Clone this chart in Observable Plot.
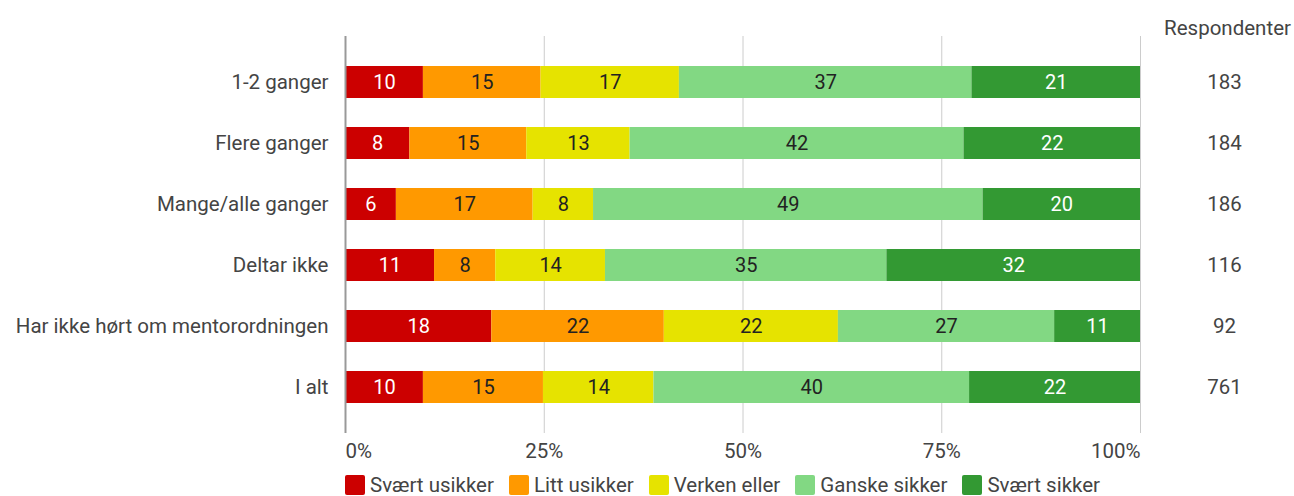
<!DOCTYPE html>
<html>
<head>
<meta charset="utf-8">
<script src="https://cdn.jsdelivr.net/npm/d3@7"></script>
<script src="https://cdn.jsdelivr.net/npm/@observablehq/plot@0.6"></script>
<style>
  body { margin: 0; background: #fff; font-family: Roboto, sans-serif; }
  #legend { display: flex; align-items: center; height: 22px; padding-left: 345px; color: #444; font-size: 20.5px; }
  #legend .item { display: flex; align-items: center; margin-right: 15px; }
  #legend .sw { width: 20px; height: 20px; border-radius: 2px; margin-right: 5px; }
</style>
</head>
<body>
<div id="chart"></div>
<div id="legend"></div>
<script>
const categories = ["1-2 ganger", "Flere ganger", "Mange/alle ganger", "Deltar ikke", "Har ikke hørt om mentorordningen", "I alt"];
const series = ["Svært usikker", "Litt usikker", "Verken eller", "Ganske sikker", "Svært sikker"];
const colors = ["#cc0000", "#ff9900", "#e6e300", "#82d883", "#339933"];
const svaertUsikker = [9.8, 8.1, 6.4, 11.2, 18.4, 9.8];
const littUsikker   = [14.8, 14.7, 17.2, 7.7, 21.7, 15.1];
const verkenEller   = [17.4, 13.0, 7.6, 13.8, 21.9, 13.9];
const ganskeSikker  = [36.8, 42.0, 49.0, 35.4, 27.2, 39.7];
const svaertSikker  = [21.2, 22.2, 19.8, 31.9, 10.8, 21.5];
const respondents = [183, 184, 186, 116, 92, 761];
const xTicks = [0, 25, 50, 75, 100];

const seriesValues = [svaertUsikker, littUsikker, verkenEller, ganskeSikker, svaertSikker];
const data = [];
categories.forEach((c, i) => {
  series.forEach((s, j) => data.push({category: c, series: s, value: seriesValues[j][i]}));
});
const whiteText = new Set([series[0], series[4]]);
const countOf = new Map(categories.map((c, i) => [c, respondents[i]]));

const plot = Plot.plot({
  width: 1294,
  height: 474,
  marginLeft: 345,
  marginRight: 154,
  marginTop: 36,
  marginBottom: 41,
  style: {fontFamily: "Roboto, sans-serif", fontSize: "20.5px", color: "#444", background: "#fff"},
  x: {domain: [0, 100]},
  y: {domain: categories, padding: 0.48},
  color: {domain: series, range: colors},
  marks: [
    Plot.ruleX(xTicks.slice(1), {stroke: "#cccccc", strokeWidth: 1}),
    Plot.barX(data, {x: "value", y: "category", fill: "series"}),
    Plot.ruleX([xTicks[0]], {stroke: "#999999", strokeWidth: 2}),
    Plot.text(data, Plot.stackX({x: "value", y: "category", text: d => whiteText.has(d.series) ? String(Math.round(d.value)) : null, fill: "#ffffff", fontSize: 20})),
    Plot.text(data, Plot.stackX({x: "value", y: "category", text: d => whiteText.has(d.series) ? null : String(Math.round(d.value)), fill: "#222222", fontSize: 20})),
    Plot.axisY({anchor: "left", tickSize: 0, tickPadding: 17, label: null, fill: "#444"}),
    Plot.axisY({anchor: "right", tickSize: 0, tickPadding: 84, textAnchor: "middle", label: null, fill: "#444", tickFormat: c => countOf.get(c)}),
    Plot.text(["Respondenter"], {frameAnchor: "top-right", dx: 87, dy: -8, textAnchor: "middle", lineAnchor: "middle", fill: "#444", fontSize: 20.5}),
    Plot.axisX([xTicks[0]], {anchor: "bottom", tickSize: 0, tickPadding: 10, textAnchor: "start", tickFormat: d => d + "%", label: null, fill: "#444"}),
    Plot.axisX(xTicks.slice(1, -1), {anchor: "bottom", tickSize: 0, tickPadding: 10, tickFormat: d => d + "%", label: null, fill: "#444"}),
    Plot.axisX(xTicks.slice(-1), {anchor: "bottom", tickSize: 0, tickPadding: 10, textAnchor: "end", tickFormat: d => d + "%", label: null, fill: "#444"})
  ]
});
document.getElementById("chart").appendChild(plot);

const legend = document.getElementById("legend");
series.forEach((s, j) => {
  const item = document.createElement("div");
  item.className = "item";
  const sw = document.createElement("div");
  sw.className = "sw";
  sw.style.background = colors[j];
  const label = document.createElement("span");
  label.textContent = s;
  item.appendChild(sw);
  item.appendChild(label);
  legend.appendChild(item);
});
</script>
</body>
</html>
